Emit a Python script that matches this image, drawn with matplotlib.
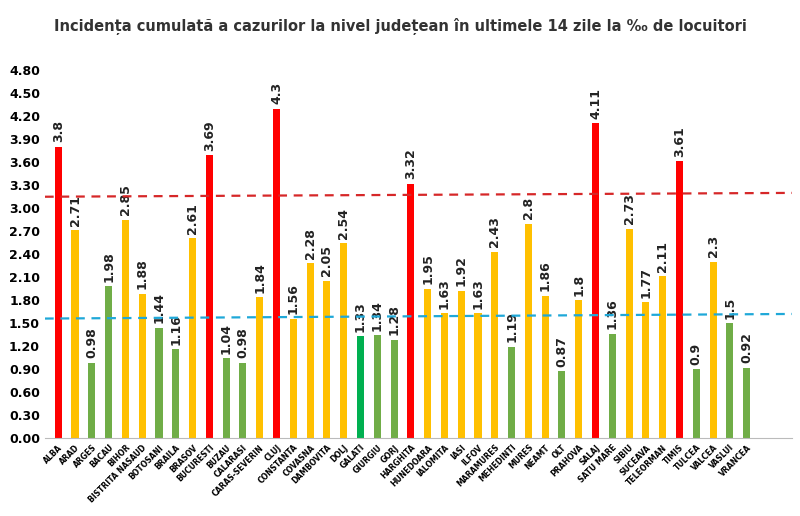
import numpy as np
import matplotlib
matplotlib.use("Agg")
import matplotlib.pyplot as plt

judete = ["ALBA", "ARAD", "ARGES", "BACAU", "BIHOR", "BISTRITA NASAUD", "BOTOSANI",
          "BRAILA", "BRASOV", "BUCURESTI", "BUZAU", "CALARASI", "CARAS-SEVERIN", "CLUJ",
          "CONSTANTA", "COVASNA", "DAMBOVITA", "DOLJ", "GALATI", "GIURGIU", "GORJ",
          "HARGHITA", "HUNEDOARA", "IALOMITA", "IASI", "ILFOV", "MARAMURES", "MEHEDINTI",
          "MURES", "NEAMT", "OLT", "PRAHOVA", "SALAJ", "SATU MARE", "SIBIU", "SUCEAVA",
          "TELEORMAN", "TIMIS", "TULCEA", "VALCEA", "VASLUI", "VRANCEA"]
valori = [3.8, 2.71, 0.98, 1.98, 2.85, 1.88, 1.44, 1.16, 2.61, 3.69, 1.04, 0.98, 1.84, 4.3,
          1.56, 2.28, 2.05, 2.54, 1.33, 1.34, 1.28, 3.32, 1.95, 1.63, 1.92, 1.63, 2.43, 1.19,
          2.8, 1.86, 0.87, 1.8, 4.11, 1.36, 2.73, 1.77, 2.11, 3.61, 0.9, 2.3, 1.5, 0.92]
# r = rosu, y = galben, g = verde, G = verde deschis
categorii = "ryggyyggyrggyryyyyGggryyyyygyygyrgyyyrgygg"
culori = {"r": "#ff0000", "y": "#ffc000", "g": "#70ad47", "G": "#00b050"}
prag_rosu = (3.15, 3.2)
prag_albastru = (1.56, 1.62)

fig = plt.figure(figsize=(8, 5.16), dpi=100)
ax = fig.add_axes([0.056, 0.151, 0.934, 0.735])
x = np.arange(len(judete))
xmin, xmax = -0.8, len(judete) + 1.7
ax.bar(x, valori, width=0.42, color=[culori[c] for c in categorii], zorder=2)
for xi, v in zip(x, valori):
    ax.text(xi, v + 0.06, f"{v:g}", rotation=90, ha="center", va="bottom",
            fontsize=9, fontweight="bold", color="#222222")

ax.plot([xmin, xmax], prag_rosu, ls=(0, (4, 3)), color="#d62728", lw=1.6, zorder=3)
ax.plot([xmin, xmax], prag_albastru, ls=(0, (4, 3)), color="#1fa8d8", lw=1.6, zorder=3)

ax.set_xlim(xmin, xmax)
ax.set_ylim(0, 4.95)
ax.set_yticks(np.arange(0, 4.81, 0.3))
ax.set_yticklabels([f"{t:.2f}" for t in np.arange(0, 4.81, 0.3)], fontsize=9, fontweight="bold")
ax.set_xticks(x)
ax.set_xticklabels(judete, rotation=45, ha="right", rotation_mode="anchor", fontsize=5.5,
                   fontweight="bold")
ax.tick_params(length=0)
for s in ["top", "right", "left"]:
    ax.spines[s].set_visible(False)
ax.spines["bottom"].set_color("#bbbbbb")

fig.suptitle("Incidența cumulată a cazurilor la nivel județean în ultimele 14 zile la ‰ de locuitori",
             y=0.965, fontsize=10.5, fontweight="bold", color="#333333")
fig.savefig("out.png", dpi=100)
